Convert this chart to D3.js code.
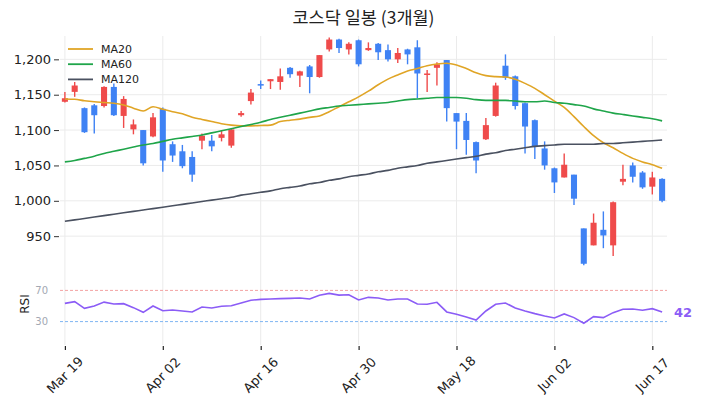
<!DOCTYPE html>
<html><head><meta charset="utf-8">
<script src="https://cdn.jsdelivr.net/npm/d3@7"></script>
<style>body{margin:0;background:#fff}svg{display:block}</style>
</head><body><svg id="c" width="701" height="411"></svg>
<script>
const dates = ["2024-03-19","2024-03-20","2024-03-21","2024-03-22","2024-03-25","2024-03-26","2024-03-27","2024-03-28","2024-03-29","2024-04-01",
"2024-04-02","2024-04-03","2024-04-04","2024-04-05","2024-04-08","2024-04-09","2024-04-10","2024-04-11","2024-04-12","2024-04-15",
"2024-04-16","2024-04-17","2024-04-18","2024-04-19","2024-04-22","2024-04-23","2024-04-24","2024-04-25","2024-04-26","2024-04-29",
"2024-04-30","2024-05-02","2024-05-03","2024-05-07","2024-05-08","2024-05-09","2024-05-10","2024-05-13","2024-05-14","2024-05-16",
"2024-05-18","2024-05-20","2024-05-21","2024-05-22","2024-05-23","2024-05-24","2024-05-27","2024-05-28","2024-05-29","2024-05-31",
"2024-06-02","2024-06-03","2024-06-04","2024-06-05","2024-06-07","2024-06-10","2024-06-11","2024-06-12","2024-06-13","2024-06-14",
"2024-06-17","2024-06-18"];
const openV  = [1140,1154,1131,1135,1134,1161,1120,1101,1100,1091,1130,1080,1070,1062,1085,1085,1089,1078,1121,1141,1165,1169,1168,1188,1177,1190,1175,1214,1228,1214,1227,1213,1222,1213,1200,1214,1217,1178,1188,1199,1124,1113,1083,1087,1120,1191,1176,1138,1114,1074,1046,1033,1037,961,937,959,937,1027,1050,1040,1020,1031];
const highV  = [1154,1168,1132,1137,1162,1166,1148,1115,1100,1124,1132,1084,1079,1070,1095,1093,1100,1103,1127,1158,1170,1172,1187,1189,1184,1192,1206,1231,1229,1224,1228,1224,1223,1221,1216,1215,1227,1185,1196,1199,1124,1124,1084,1117,1167,1207,1177,1139,1115,1084,1047,1067,1037,961,982,985,999,1051,1054,1042,1041,1032];
const lowV   = [1139,1147,1096,1095,1132,1120,1103,1094,1050,1090,1041,1055,1046,1027,1073,1070,1084,1075,1119,1136,1158,1158,1157,1174,1161,1152,1174,1211,1209,1207,1190,1212,1199,1197,1195,1193,1145,1154,1163,1112,1073,1065,1039,1086,1119,1171,1129,1067,1059,1044,1011,1033,994,909,937,933,922,1022,1026,1017,1009,998];
const closeV = [1145,1163,1097,1121,1161,1121,1144,1108,1053,1118,1057,1064,1049,1037,1092,1077,1094,1101,1124,1153,1163,1172,1176,1179,1183,1175,1206,1228,1216,1222,1193,1216,1210,1200,1209,1207,1180,1180,1193,1131,1112,1086,1057,1107,1163,1174,1134,1105,1076,1050,1026,1051,1003,911,969,951,998,1031,1034,1019,1033,1000];
const ma20  = [1144,1143.5,1141.5,1140,1139,1138,1135.5,1131,1127,1133,1129.5,1126,1123,1118,1115,1112,1109,1107,1106,1106,1106.5,1107,1112,1114,1115.5,1118,1120,1126,1133,1140,1147,1155,1164,1172,1178,1183.5,1187,1191,1193.5,1194.5,1192,1187,1181,1177,1175.5,1175,1172,1166,1159,1150,1141,1132,1119,1105,1092,1082,1075,1067,1060,1055,1051,1046];
const ma60  = [1055,1057,1060,1063,1067,1070,1073,1076,1079,1081,1084,1087,1089,1091,1093,1096,1099,1102,1105,1108,1111,1115,1118,1121,1124,1127,1130,1132,1134,1135,1136,1137,1138,1139,1141,1143,1144,1145,1146,1146,1146,1145,1143,1142,1142,1142,1141,1140,1140,1141,1139,1138,1136,1134,1130,1127,1124,1122,1120,1118,1116,1113];
const ma120 = [971,973,975,977,979,981,983,985,987,989,991,993,995,997,999,1001,1003,1005,1008,1010,1012,1014,1017,1019,1021,1024,1026,1029,1031,1034,1036,1038,1041,1043,1046,1048,1050,1053,1055,1057,1059,1061,1063,1066,1068,1071,1073,1075,1077,1078,1079,1080,1080,1080,1080,1081,1081,1082,1083,1084,1085,1086];
const rsi   = [53.4,55.6,47,50,55,52.6,53,47.9,41.9,50,44,44.9,43.6,42.4,48.7,47.5,49.6,50.4,53.9,57.3,58.5,59,59.4,59.8,60.2,59,63.7,66.2,64,64.5,57.7,61.1,60.2,57.7,59,59,52.6,52.2,54.7,42.4,39.4,36,32,43.6,52.2,53.9,47.5,43.6,40.2,37.2,34.7,39.8,35.1,27.9,36.4,35.1,41.5,45.8,46.2,44.5,46.6,42.3];
const priceTicks = [950,1000,1050,1100,1150,1200];
const rsiTicks = [30,70];
const dateTickIdx = [0,10,20,30,40,50,60];
const maNames = ["MA20","MA60","MA120"];

const svg = d3.select("#c");
const FONT = "'DejaVu Sans', sans-serif";
const L = 60, R = 667;
const x = d3.scaleLinear().domain([-0.5, dates.length - 0.5]).range([L, R]);
const y = d3.scaleLinear().domain([905, 1233]).range([268, 36]);
const yr = d3.scaleLinear().domain([0, 100]).range([345, 267]);
const parse = d3.timeParse("%Y-%m-%d");
const fmtDate = d3.timeFormat("%b %d");

// title
svg.append("text").attr("x", (L + R) / 2).attr("y", 24).attr("text-anchor", "middle")
  .attr("font-family", "'Noto Sans CJK KR', 'Noto Sans', sans-serif").attr("font-size", 17.5).attr("fill", "#222")
  .text("코스닥 일봉 (3개월)");

// grid
const g = svg.append("g");
g.selectAll(".vg").data(dateTickIdx).join("line")
  .attr("x1", d => x(d)).attr("x2", d => x(d)).attr("y1", 36).attr("y2", 345)
  .attr("stroke", "#ebebeb").attr("stroke-width", 1);
g.selectAll(".hg").data(priceTicks).join("line")
  .attr("x1", L).attr("x2", R).attr("y1", d => y(d)).attr("y2", d => y(d))
  .attr("stroke", "#ebebeb").attr("stroke-width", 1);

// price axis
const ya = svg.append("g").attr("transform", `translate(${L},0)`)
  .call(d3.axisLeft(y).tickValues(priceTicks).tickFormat(d3.format(",")).tickSize(5).tickPadding(4));
ya.select(".domain").remove();
ya.selectAll("line").attr("transform", "translate(-1,0)").attr("stroke", "#333");
ya.selectAll("text").attr("font-family", FONT).attr("font-size", 13).attr("fill", "#222");

// candles
const colorOf = i => closeV[i] >= openV[i] ? "#ef4b4b" : "#3f82f4";
const idx = d3.range(dates.length);
const bw = (x(1) - x(0)) * 0.62;
svg.append("g").selectAll("line").data(idx).join("line")
  .attr("x1", i => x(i)).attr("x2", i => x(i))
  .attr("y1", i => y(highV[i])).attr("y2", i => y(lowV[i]))
  .attr("stroke", colorOf).attr("stroke-width", 1.4);
svg.append("g").selectAll("rect").data(idx).join("rect")
  .attr("x", i => x(i) - bw / 2).attr("width", bw)
  .attr("y", i => y(Math.max(openV[i], closeV[i])))
  .attr("height", i => Math.max(1.5, Math.abs(y(openV[i]) - y(closeV[i]))))
  .attr("fill", colorOf);

// moving averages
const maData = [ma20, ma60, ma120];
const maColors = ["#e0a526", "#1fa54a", "#4a5160"];
const line = d3.line().x((d, i) => x(i)).y(d => y(d)).curve(d3.curveMonotoneX);
maData.forEach((arr, k) => {
  svg.append("path").attr("d", line(arr)).attr("fill", "none")
    .attr("stroke", maColors[k]).attr("stroke-width", 1.6);
});

// legend
const lg = svg.append("g");
maNames.forEach((n, k) => {
  const yy = 49 + k * 15.2;
  lg.append("line").attr("x1", 68).attr("x2", 93).attr("y1", yy).attr("y2", yy)
    .attr("stroke", maColors[k]).attr("stroke-width", 1.8);
  lg.append("text").attr("x", 101).attr("y", yy).attr("dy", "0.36em")
    .attr("font-family", FONT).attr("font-size", 11).attr("fill", "#222").text(n);
});

// RSI panel
const rsiColors = { 70: "#f3a3a3", 30: "#7fb6f2" };
svg.append("g").selectAll("line").data(rsiTicks).join("line")
  .attr("x1", L).attr("x2", R).attr("y1", d => yr(d)).attr("y2", d => yr(d))
  .attr("stroke", d => rsiColors[d]).attr("stroke-width", 1).attr("stroke-dasharray", "3,2");
const ra = svg.append("g").attr("transform", `translate(${L},0)`)
  .call(d3.axisLeft(yr).tickValues(rsiTicks).tickSize(0).tickPadding(12));
ra.select(".domain").remove();
ra.selectAll("text").attr("font-family", FONT).attr("font-size", 10).attr("fill", "#a3a8b3");
svg.append("text").attr("transform", "translate(29,304) rotate(-90)").attr("text-anchor", "middle")
  .attr("font-family", FONT).attr("font-size", 12).attr("fill", "#222").text("RSI");
const rline = d3.line().x((d, i) => x(i)).y(d => yr(d));
svg.append("path").attr("d", rline(rsi)).attr("fill", "none").attr("stroke", "#8b5cf6").attr("stroke-width", 1.6);
svg.append("text").attr("x", 674).attr("y", yr(rsi[rsi.length - 1])).attr("dy", "0.35em")
  .attr("font-family", FONT).attr("font-size", 13).attr("font-weight", "bold").attr("fill", "#8b5cf6")
  .text(Math.round(rsi[rsi.length - 1]));

// x axis
const xa = svg.append("g").attr("transform", "translate(0,346)")
  .call(d3.axisBottom(x).tickValues(dateTickIdx).tickSize(4).tickFormat(""));
xa.select(".domain").remove();
xa.selectAll("line").attr("stroke", "#222").attr("stroke-width", 1.2);
svg.append("g").selectAll("text").data(dateTickIdx).join("text")
  .attr("transform", d => `translate(${x(d)},375) rotate(-45)`)
  .attr("text-anchor", "middle").attr("dy", "0.35em")
  .attr("font-family", FONT).attr("font-size", 13).attr("fill", "#222")
  .text(d => fmtDate(parse(dates[d])));
</script></body></html>
